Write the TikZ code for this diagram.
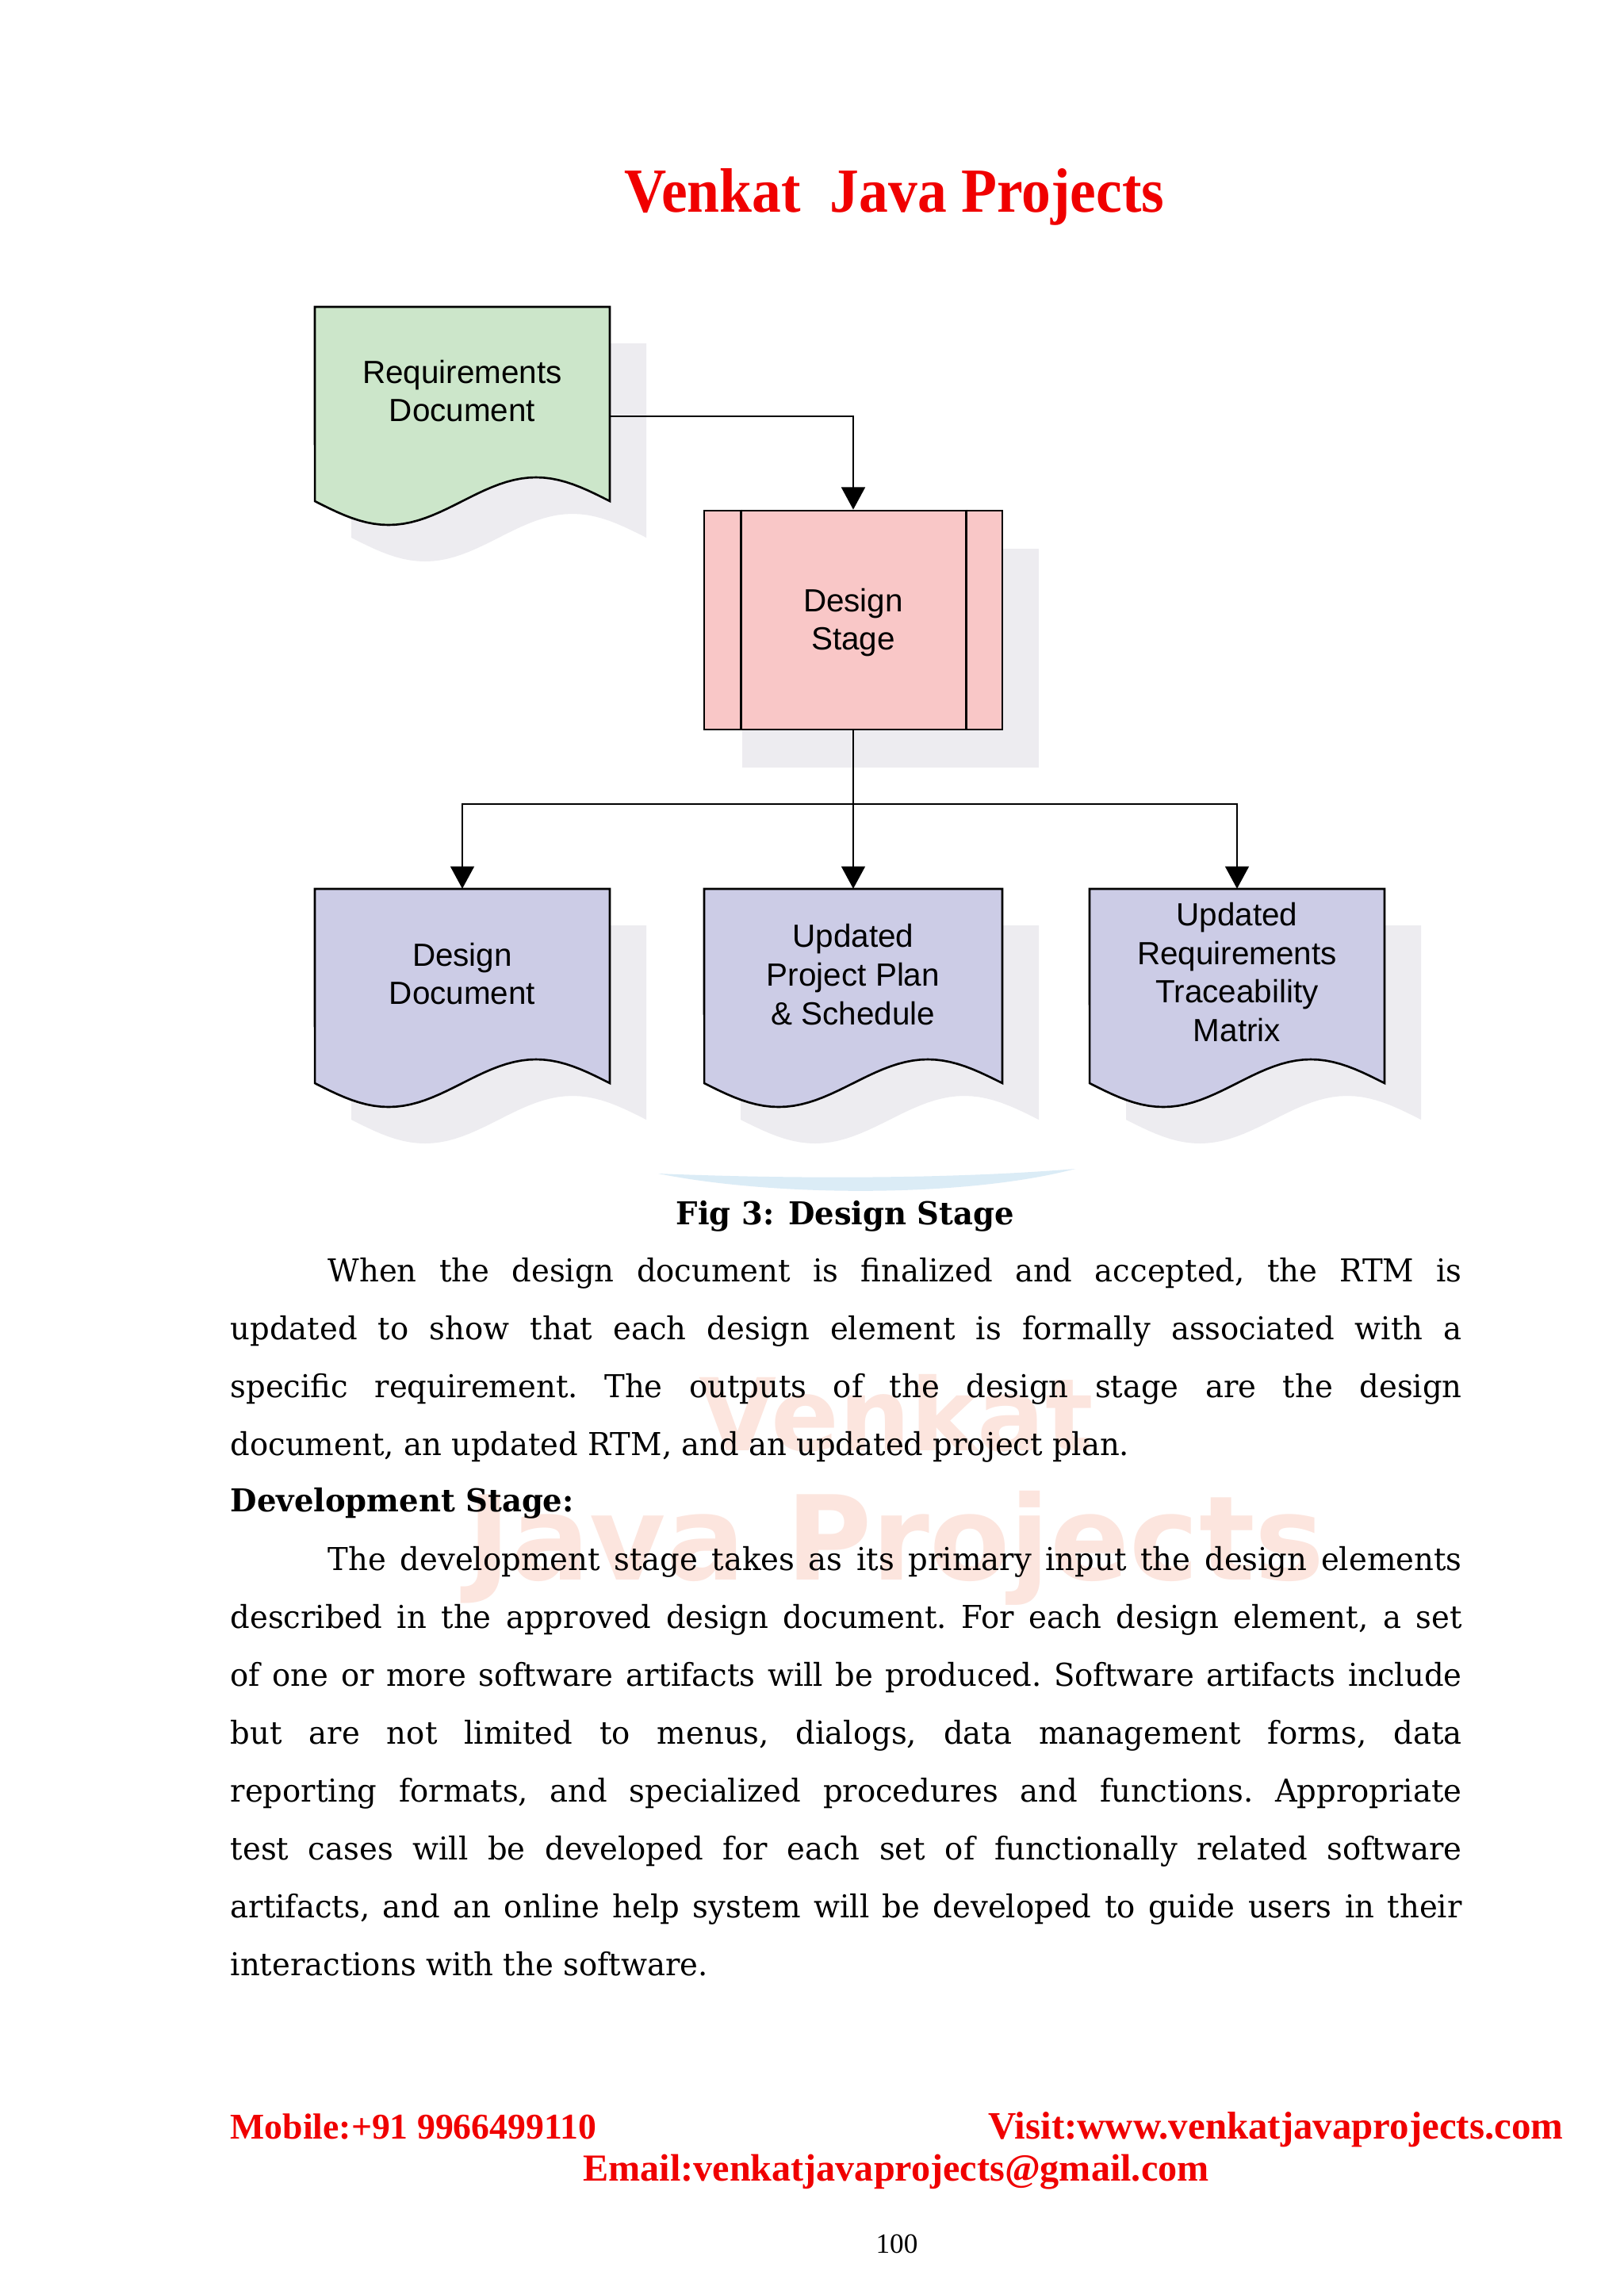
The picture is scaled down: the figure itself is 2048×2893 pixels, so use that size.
\documentclass[tikz,border=0pt]{standalone}
\usepackage{fontspec}
\usetikzlibrary{arrows.meta,calc}
\newfontfamily\arialf{Liberation Sans}
\newfontfamily\bodyf[FakeStretch=0.97]{DejaVu Serif}
\newfontfamily\titlef[FakeStretch=0.93]{Liberation Serif}
\newfontfamily\timesf{Liberation Serif}
\newfontfamily\wmf{DejaVu Sans}
\definecolor{shadowc}{RGB}{237,236,240}
\definecolor{greenf}{RGB}{204,230,202}
\definecolor{pinkf}{RGB}{249,199,199}
\definecolor{lavf}{RGB}{204,204,230}
\definecolor{redt}{RGB}{240,0,0}
\definecolor{wmc}{RGB}{252,229,222}
\definecolor{swoosh}{RGB}{205,228,243}
\tikzset{
  shapeline/.style={draw=black, line width=0.75pt},
  conn/.style={draw=black, line width=0.6pt},
  arr/.style={conn, -{Triangle[length=8pt,width=8.5pt]}},
  docbody/.style={inner sep=0, minimum width=#1, minimum height=2.75cm},
  lbl/.style={inner sep=0, align=center, font=\arialf\fontsize{11.5}{13.8}\selectfont},
  bodytext/.style={inner sep=0, font=\bodyf\frenchspacing\fontsize{11.3}{13}\selectfont},
  bodybold/.style={inner sep=0, font=\bodyf\bfseries\fontsize{11.3}{13}\selectfont},
  foot/.style={inner sep=0, text=redt, font=\timesf\bfseries\fontsize{#1}{16}\selectfont},
}
% x0 y0 width fill
\newcommand\docshape[4]{%
  \fill[shadowc] ({#1+46},{#2+46}) -- ++(#3,0) -- ++(0,245)
    -- plot[domain=1:0,samples=41,variable=\t] ({#1+46+\t*#3},{#2+46+245+30*sin(\t*360)}) -- cycle;
  \filldraw[fill=#4, shapeline] (#1,#2) -- ++(#3,0) -- ++(0,245)
    -- plot[domain=1:0,samples=41,variable=\t] ({#1+\t*#3},{#2+245+30*sin(\t*360)}) -- cycle;
}
\newcommand\jline[5]{\node[bodytext, anchor=base west] (#1) at (#2,#3) {\makebox[#4][s]{#5}};}
\newcommand\fline[4]{\node[bodytext, anchor=base west] (#1) at (#2,#3) {#4};}
\begin{document}
\begin{tikzpicture}[x=0.01cm, y=-0.01cm]
\useasboundingbox (0,0) rectangle (2048,2893);
\fill[white] (0,0) rectangle (2048,2893);

% watermark
\node[inner sep=0, text=wmc, font=\wmf\bfseries\fontsize{36}{40}\selectfont] (wm1) at (1130,1782) {Venkat};
\node[inner sep=0, text=wmc, font=\wmf\bfseries\fontsize{42}{46}\selectfont] (wm2) at (1130,1952) {Java Projects};
\fill[swoosh, opacity=0.7] (830,1480) .. controls (1000,1487) and (1200,1487) .. (1356,1474)
   .. controls (1220,1510) and (980,1510) .. (830,1480) -- cycle;

% title
\node[inner sep=0, anchor=base, text=redt, font=\titlef\bfseries\fontsize{22.5}{27}\selectfont] (title) at (1128,267) {Venkat\ \ Java Projects};

% shapes
\docshape{397}{387}{372}{greenf}
\fill[shadowc] (936,692) rectangle (1310,968);
\docshape{397}{1121}{372}{lavf}
\docshape{888}{1121}{376}{lavf}
\docshape{1374}{1121}{372}{lavf}

\node[docbody=3.72cm] (req) at (583,525) {};
\node[shapeline, fill=pinkf, inner sep=0, minimum width=3.76cm, minimum height=2.76cm] (ds) at (1076,782) {};
\draw[shapeline] ($(ds.north west)+(48,0)$) -- ($(ds.south west)+(48,0)$);
\draw[shapeline] ($(ds.north east)+(-47,0)$) -- ($(ds.south east)+(-47,0)$);
\node[docbody=3.72cm] (dd) at (583,1259) {};
\node[docbody=3.76cm] (pp) at (1076,1259) {};
\node[docbody=3.72cm] (rtm) at (1560,1259) {};

\node[lbl] (reqt) at (583,493) {Requirements\\Document};
\node[lbl] (dst) at (1076,785) {Design\\Stage};
\node[lbl] (ddt) at (583,1228) {Design\\Document};
\node[lbl] (ppt) at (1076,1229) {Updated\\Project Plan\\\& Schedule};
\node[lbl] (rtmt) at (1560,1226) {Updated\\Requirements\\Traceability\\Matrix};

% connectors
\draw[arr] (req.east) -| (ds.north);
\coordinate (j) at (1076,1014);
\draw[conn] (ds.south) -- (j);
\draw[arr] (j) -| (dd.north);
\draw[arr] (j) -- (pp.north);
\draw[arr] (j) -| (rtm.north);

% caption and body text
\node[bodybold, anchor=base] (cap) at (1066,1544) {Fig 3: Design Stage};
\jline{l1}{413}{1616}{406.6pt}{When the design document is finalized and accepted, the RTM is}
\jline{l2}{290}{1689}{441.6pt}{updated to show that each design element is formally associated with a}
\jline{l3}{290}{1762}{441.6pt}{specific requirement. The outputs of the design stage are the design}
\fline{l4}{290}{1835}{document, an updated RTM, and an updated project plan.}
\node[bodybold, anchor=base west] (dev) at (290,1906) {Development Stage:};
\jline{l5}{413}{1980}{406.6pt}{The development stage takes as its primary input the design elements}
\jline{l6}{290}{2053}{441.6pt}{described in the approved design document. For each design element, a set}
\jline{l7}{290}{2126}{441.6pt}{of one or more software artifacts will be produced. Software artifacts include}
\jline{l8}{290}{2199}{441.6pt}{but are not limited to menus, dialogs, data management forms, data}
\jline{l9}{290}{2272}{441.6pt}{reporting formats, and specialized procedures and functions. Appropriate}
\jline{l10}{290}{2345}{441.6pt}{test cases will be developed for each set of functionally related software}
\jline{l11}{290}{2418}{441.6pt}{artifacts, and an online help system will be developed to guide users in their}
\fline{l12}{290}{2491}{interactions with the software.}

% footer
\node[foot=13, anchor=base west] (mob) at (290,2697) {Mobile:+91 9966499110};
\node[foot=13.9, anchor=base east] (vis) at (1972,2697) {Visit:www.venkatjavaprojects.com};
\node[foot=13.7, anchor=base] (mail) at (1130,2750) {Email:venkatjavaprojects@gmail.com};
\node[inner sep=0, anchor=base, font=\timesf\fontsize{10}{12}\selectfont] (pg) at (1131,2841) {100};
\end{tikzpicture}
\end{document}
